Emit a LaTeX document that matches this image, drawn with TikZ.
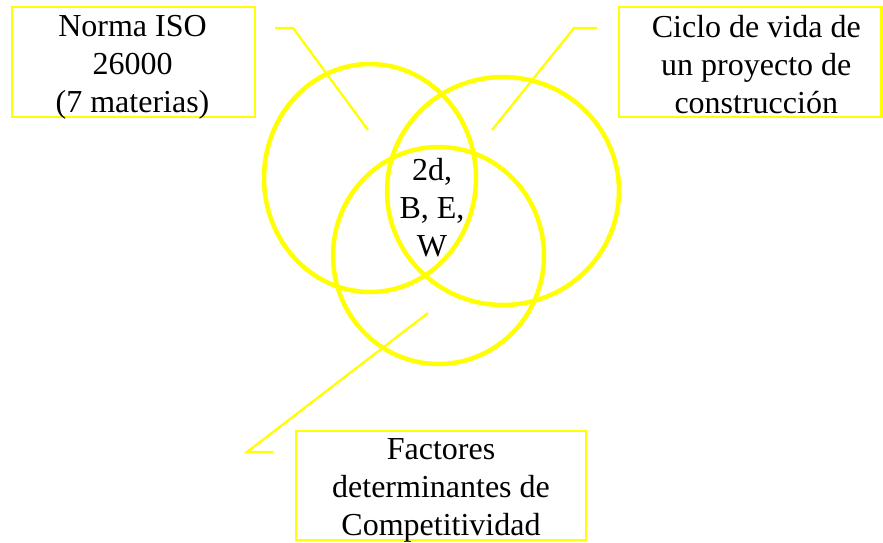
\documentclass[tikz,border=0pt]{standalone}
\usepackage{fontspec}
\setmainfont{Liberation Serif}
\usetikzlibrary{positioning,shapes.geometric}
\definecolor{amarillo}{RGB}{255,255,0}
\tikzset{
  caja/.style={draw=amarillo, line width=2.6pt, rectangle, inner sep=0pt},
  texto/.style={align=center, inner sep=0pt, font=\fontsize{32}{38}\selectfont},
  aro/.style={draw=amarillo, line width=4.5pt, ellipse, inner sep=0pt},
  guia/.style={draw=amarillo, line width=2.3pt},
}
\begin{document}
\begin{tikzpicture}[x=1pt,y=-1pt]
    \useasboundingbox (0,0) rectangle (883,543);

    % Los tres aros
    \node[aro, minimum width=212pt, minimum height=228pt] (a-iso) at (370,178) {};
    \node[aro, minimum width=232pt, minimum height=228pt] (a-ciclo) at (503,191) {};
    \node[aro, minimum width=211pt, minimum height=217pt] (a-fact) at (438.5,255.5) {};

    % Texto de la zona comun
    \node[texto, anchor=north] (centro) at (432,158) {2d,\\B, E,\\W};

    % Las cajas
    \node[caja, minimum width=243pt, minimum height=110pt] (iso) at (133.5,62) {};
    \node[caja, minimum width=262.5pt, minimum height=110pt] (ciclo) at (750.25,62) {};
    \node[caja, minimum width=290pt, minimum height=109pt] (fact) at (441,485.5) {};
    \node[texto, below=9pt of iso.north, xshift=-1pt] (t-iso) {Norma ISO\\26000\\(7 materias)};
    \node[texto, below=9pt of ciclo.north, xshift=6pt] (t-ciclo) {Ciclo de vida de\\un proyecto de\\construcción};
    \node[texto, below=9pt of fact.north] (t-fact) {Factores\\determinantes de\\Competitividad};

    % Las guias (codo + tramo hacia el aro)
    \coordinate (g1a) at (275,28);
    \coordinate (g1b) at (293,28);
    \coordinate (g1c) at (368,130);
    \coordinate (g2a) at (597,28);
    \coordinate (g2b) at (574,28);
    \coordinate (g2c) at (492,130);
    \coordinate (g3a) at (428,313);
    \coordinate (g3b) at (247,452);
    \coordinate (g3c) at (273,452);

    \draw[guia] (g1a) -- (g1b) -- (g1c);
    \draw[guia] (g2a) -- (g2b) -- (g2c);
    \draw[guia] (g3a) -- (g3b) -- (g3c);
\end{tikzpicture}
\end{document}
